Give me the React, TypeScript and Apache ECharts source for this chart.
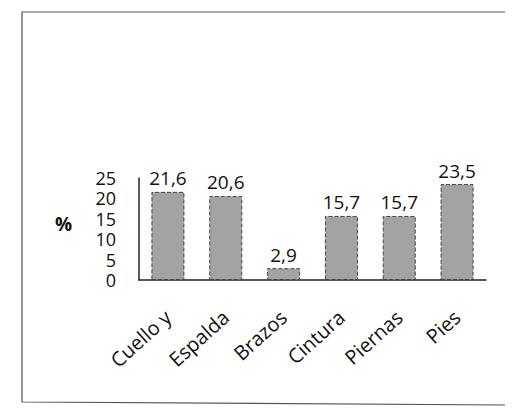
import React, { useEffect, useRef } from "react";
import * as echarts from "echarts";

const categories = ["Cuello y", "Espalda", "Brazos", "Cintura", "Piernas", "Pies"];
const values = [21.6, 20.6, 2.9, 15.7, 15.7, 23.5];
const yTicks = [0, 5, 10, 15, 20, 25];

export default function App() {
  const ref = useRef<HTMLDivElement>(null);
  useEffect(() => {
    const chart = echarts.init(ref.current!, null, { renderer: "svg" });
    const font = "'Open Sans', 'Liberation Sans', sans-serif";
    chart.setOption({
      animation: false,
      backgroundColor: "#ffffff",
      graphic: [
        {
          type: "polyline",
          shape: { points: [[505, 12], [22, 12], [22, 402], [505, 405]] },
          style: { fill: "none", stroke: "#555", lineWidth: 1.2 },
          silent: true,
        },
        {
          type: "text",
          x: 55,
          y: 214,
          style: { text: "%", font: `bold 19px ${font}`, fill: "#111" },
        },
      ],
      grid: { left: 139, right: 28, top: 178, bottom: 131 },
      xAxis: {
        type: "category",
        data: categories,
        axisLine: { show: true, lineStyle: { color: "#222", width: 1.5 } },
        axisTick: { show: false },
        axisLabel: {
          rotate: 42,
          interval: 0,
          margin: 34,
          color: "#111",
          fontSize: 20,
          fontFamily: font,
        },
      },
      yAxis: {
        type: "value",
        min: yTicks[0],
        max: yTicks[yTicks.length - 1],
        interval: 5,
        splitLine: { show: false },
        axisLine: { show: true, lineStyle: { color: "#222", width: 1.5 } },
        axisTick: { show: false },
        axisLabel: {
          margin: 23,
          color: "#111",
          fontSize: 18,
          lineHeight: 16,
          fontFamily: font,
          showMinLabel: true,
          showMaxLabel: true,
          hideOverlap: false,
        },
      },
      series: [
        {
          type: "bar",
          data: values,
          barWidth: 33,
          itemStyle: {
            color: "#a3a3a3",
            borderColor: "#444",
            borderWidth: 1,
            borderType: "dashed",
          },
          label: {
            show: true,
            position: "top",
            distance: 4,
            color: "#111",
            fontSize: 19,
            fontFamily: font,
            formatter: (p: any) => String(p.value).replace(".", ","),
          },
        },
      ],
    });
    return () => chart.dispose();
  }, []);
  return (
    <div
      ref={ref}
      style={{ position: "fixed", left: 0, top: 0, width: 514, height: 411 }}
    />
  );
}
